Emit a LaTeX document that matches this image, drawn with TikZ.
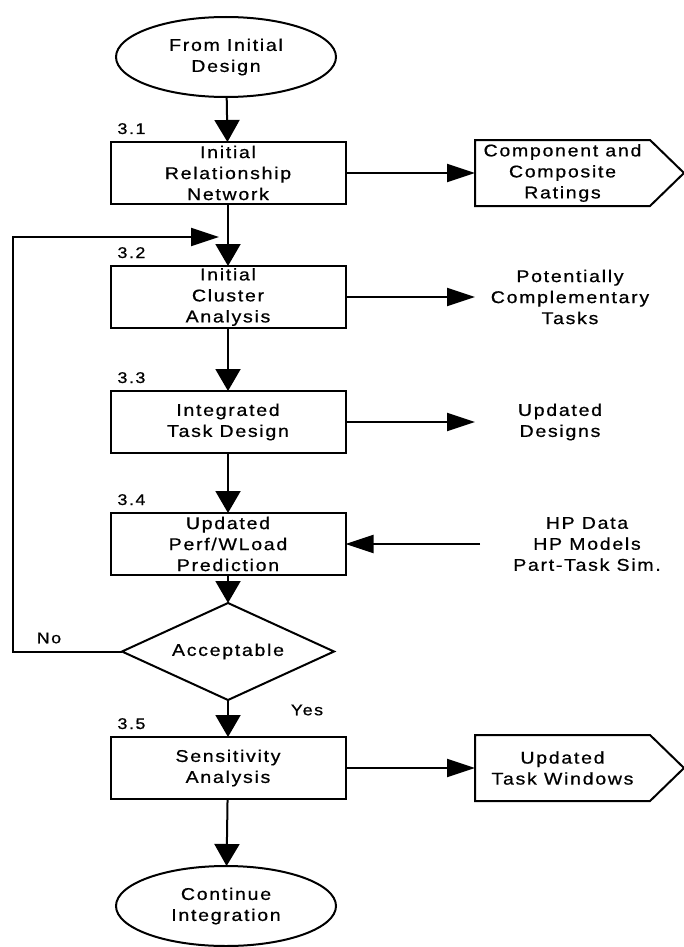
\documentclass[tikz,border=0pt]{standalone}
\usepackage{fontspec}
\setmainfont{Liberation Sans}[FakeStretch=1.15,LetterSpace=10,FakeBold=0.7]
\usetikzlibrary{shapes.geometric,arrows.meta,calc}

\begin{document}
\begin{tikzpicture}[x=1pt,y=-1pt,
  font=\fontsize{17}{21}\selectfont,
  every node/.style={inner sep=0pt, outer sep=0pt},
  stroke/.style={line width=2pt},
  proc/.style={stroke, draw, rectangle, minimum width=235pt, minimum height=62pt, align=center},
  term/.style={stroke, draw, ellipse, minimum width=220pt, minimum height=80pt, align=center},
  decide/.style={stroke, draw, diamond, aspect=2.19, minimum width=212pt, minimum height=97pt},
  outbox/.style={minimum width=175pt, minimum height=66pt, align=center},
  result/.style={align=center},
  num/.style={anchor=base west, font=\fontsize{15.5}{18}\selectfont},
  vflow/.style={stroke, -{Triangle[length=22pt,width=25pt]}},
  hflow/.style={stroke, -{Triangle[length=28pt,width=18pt]}},
  pentagon/.style={stroke, line join=miter}
]
\useasboundingbox (0,0) rectangle (684,947);

% main column
\node[term] (start)  at (226,57)  {From Initial\\Design};
\node[proc] (b31)    at (228,173) {Initial\\Relationship\\Network};
\node[proc] (b32)    at (228,297) {Initial\\Cluster\\Analysis};
\node[proc] (b33)    at (228,422) {Integrated\\Task Design};
\node[proc] (b34)    at (228,544) {Updated\\Perf/WLoad\\Prediction};
\node[decide] (acc)  at (228,651.5) {Acceptable};
\node[proc] (b35)    at (228,768) {Sensitivity\\Analysis};
\node[term] (finish) at (226,906) {Continue\\Integration};

% step numbers
\node[num] (n31) at ($(b31.north west)+(7,-8)$) {3.1};
\node[num] (n32) at ($(b32.north west)+(7,-8)$) {3.2};
\node[num] (n33) at ($(b33.north west)+(7,-8)$) {3.3};
\node[num] (n34) at ($(b34.north west)+(7,-8)$) {3.4};
\node[num] (n35) at ($(b35.north west)+(7,-8)$) {3.5};

% side outputs and inputs
\node[outbox] (cr) at (562.5,173) {Component and\\Composite\\Ratings};
\draw[pentagon] (cr.north west) -- (cr.north east) -- ([xshift=34pt]cr.east)
  -- (cr.south east) -- (cr.south west) -- cycle;
\node[result, minimum width=190pt] (pct) at (570,297) {Potentially\\Complementary\\Tasks};
\node[result, minimum width=170pt] (ud)  at (560,422) {Updated\\Designs};
\node[result, minimum width=214pt] (hp)  at (587,544) {HP Data\\HP Models\\Part-Task Sim.};
\node[outbox] (tw) at (562.5,768) {Updated\\Task Windows};
\draw[pentagon] (tw.north west) -- (tw.north east) -- ([xshift=34pt]tw.east)
  -- (tw.south east) -- (tw.south west) -- cycle;

% decision labels
\node[font=\fontsize{15.5}{18}\selectfont] (no)  at (49,638)  {No};
\node[font=\fontsize{15.5}{18}\selectfont] (yes) at (307,710) {Yes};

% vertical flow
\draw[vflow] (start) -- (b31);
\draw[vflow] (b31) -- (b32);
\draw[vflow] (b32) -- (b33);
\draw[vflow] (b33) -- (b34);
\draw[vflow] (b34) -- (acc);
\draw[vflow] (acc) -- (b35);
\draw[vflow] (b35) -- (finish);

% horizontal flow
\draw[hflow] (b31.east) -- (cr.west);
\draw[hflow] (b32.east) -- (pct.west);
\draw[hflow] (b33.east) -- (ud.west);
\draw[hflow] (hp.west) -- (b34.east);
\draw[hflow] (b35.east) -- (tw.west);

% rework loop
\coordinate (loop)  at (13,237);
\coordinate (merge) at (219,237);
\draw[hflow] (acc.west) -| (loop) -- (merge);
\end{tikzpicture}
\end{document}
